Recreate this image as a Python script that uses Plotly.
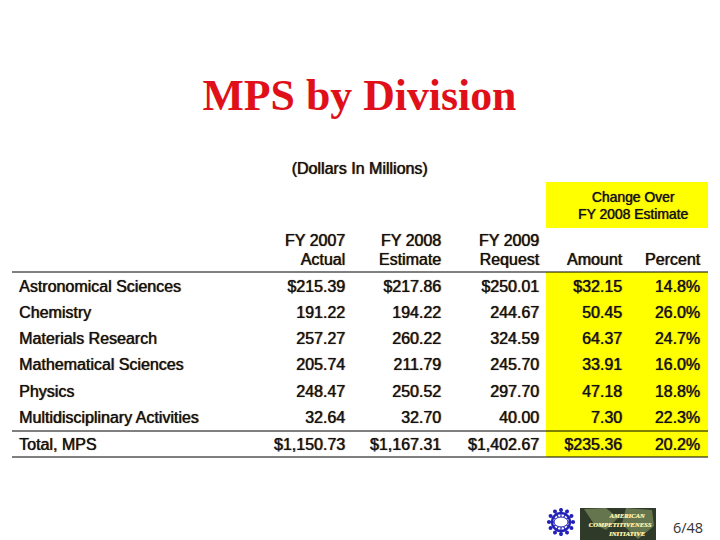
#!/usr/bin/env python3
# -*- coding: utf-8 -*-

import numpy as np
import plotly.graph_objects as go

# %% Table data
divisions = ['Astronomical Sciences', 'Chemistry', 'Materials Research',
             'Mathematical Sciences', 'Physics', 'Multidisciplinary Activities',
             'Total, MPS']
fy2007 = ['$215.39', '191.22', '257.27', '205.74', '248.47', '32.64', '$1,150.73']
fy2008 = ['$217.86', '194.22', '260.22', '211.79', '250.52', '32.70', '$1,167.31']
fy2009 = ['$250.01', '244.67', '324.59', '245.70', '297.70', '40.00', '$1,402.67']
amount = ['$32.15', '50.45', '64.37', '33.91', '47.18', '7.30', '$235.36']
percent = ['14.8%', '26.0%', '24.7%', '16.0%', '18.8%', '22.3%', '20.2%']
header_top = ['FY 2007', 'FY 2008', 'FY 2009', '', '']
header_bottom = ['Actual', 'Estimate', 'Request', 'Amount', 'Percent']

# %% Layout positions (pixels of the 720x540 page)
row_y = [288, 314, 340, 366, 393, 419, 446]
col_right = [345, 441, 539, 622, 700]
FONT = 'Liberation Sans'
INK = '#111111'
SMEAR = '0.6px 0 0.8px #222'
BLUE = '#2222b8'
GOLD = '#f7eca6'
BADGE_SMEAR = '0.4px 0 0.3px #f7eca6'


def text_trace(x, y, text, pos='middle left', size=16, family=FONT, color=INK,
               weight='normal', shadow=SMEAR):
    return go.Scatter(x=x, y=y, text=text, mode='text', textposition=pos,
                      textfont=dict(family=family, size=size, color=color,
                                    weight=weight, shadow=shadow),
                      hoverinfo='skip', showlegend=False, cliponaxis=False)


fig = go.Figure()

fig.add_trace(text_trace([19] * len(divisions), row_y, divisions, 'middle right'))
for right, top, bottom, col in zip(col_right, header_top, header_bottom,
                                   (fy2007, fy2008, fy2009, amount, percent)):
    fig.add_trace(text_trace([right] * len(col), row_y, col))
    fig.add_trace(text_trace([right, right], [242, 261], [top, bottom]))

fig.add_trace(text_trace([359.5], [99], ['MPS by Division'], 'middle center', 43.8,
                         'Liberation Serif', '#e0101a', 'bold', 'none'))
fig.add_trace(text_trace([359.5], [170], ['(Dollars In Millions)'], 'middle center'))
fig.add_trace(text_trace([633, 633], [199, 216],
                         ['Change Over', 'FY 2008 Estimate'], 'middle center', 13.9))
fig.add_trace(text_trace([688], [529], ['6/48'], 'middle center', 14.5, 'Open Sans',
                         '#333333', 'normal', 'none'))

# yellow panels and rules
shapes = [
    dict(type='rect', x0=546, x1=708, y0=182, y1=228, fillcolor='#ffff00',
         line_width=0, layer='below'),
    dict(type='rect', x0=546, x1=708, y0=272, y1=457, fillcolor='#ffff00',
         line_width=0, layer='below'),
]
for rule_y in (272, 431, 457):
    shapes.append(dict(type='line', x0=12, x1=708, y0=rule_y, y1=rule_y,
                       line=dict(color='black', width=1)))

# NSF wheel
wheel_x, wheel_y = 561, 522
shapes.append(dict(type='circle', x0=wheel_x - 9, x1=wheel_x + 9, y0=wheel_y - 9,
                   y1=wheel_y + 9, line=dict(color=BLUE, width=2.5)))
for ang in np.arange(0, 2 * np.pi, np.pi / 6):
    ex, ey = wheel_x + 12 * np.cos(ang), wheel_y + 12 * np.sin(ang)
    shapes.append(dict(type='line', x0=wheel_x, y0=wheel_y,
                       x1=wheel_x + 14 * np.cos(ang), y1=wheel_y + 14 * np.sin(ang),
                       line=dict(color=BLUE, width=1.2)))
    shapes.append(dict(type='circle', x0=ex - 2, x1=ex + 2, y0=ey - 2, y1=ey + 2,
                       fillcolor=BLUE, line_width=0))
shapes.append(dict(type='circle', x0=wheel_x - 7, x1=wheel_x + 7, y0=wheel_y - 5,
                   y1=wheel_y + 5, fillcolor='white',
                   line=dict(color=BLUE, width=1)))

# initiative badge
shapes.append(dict(type='rect', x0=580, x1=656, y0=508, y1=540,
                   fillcolor='#2f3a28', line_width=0, layer='below'))
shapes.append(dict(type='path', path='M 584 509 L 606 508 L 618 518 L 606 530 L 594 524 Z',
                   fillcolor='#65764e', line_width=0, layer='below'))
shapes.append(dict(type='path', path='M 626 508 L 652 510 L 654 526 L 638 539 L 622 524 Z',
                   fillcolor='#65764e', line_width=0, layer='below'))

fig.add_trace(text_trace([561], [522], ['nsf'], 'middle center', 6, FONT, BLUE,
                         'bold', 'none'))
fig.add_trace(text_trace([627], [516], ['<i>AMERICAN</i>'], 'middle center', 6.6,
                         'Liberation Serif', GOLD, 'bold', BADGE_SMEAR))
fig.add_trace(text_trace([620], [525], ['<i>COMPETITIVENESS</i>'], 'middle center', 6.7,
                         'Liberation Serif', GOLD, 'bold', BADGE_SMEAR))
fig.add_trace(text_trace([627], [534], ['<i>INITIATIVE</i>'], 'middle center', 6.6,
                         'Liberation Serif', GOLD, 'bold', BADGE_SMEAR))

fig.update_layout(width=720, height=540, margin=dict(l=0, r=0, t=0, b=0),
                  paper_bgcolor='white', plot_bgcolor='white', shapes=shapes,
                  showlegend=False)
fig.update_xaxes(range=[0, 720], visible=False, fixedrange=True)
fig.update_yaxes(range=[540, 0], visible=False, fixedrange=True)

fig.write_html('out.html', config=dict(displayModeBar=False),
               post_script="document.body.style.margin='0';")
